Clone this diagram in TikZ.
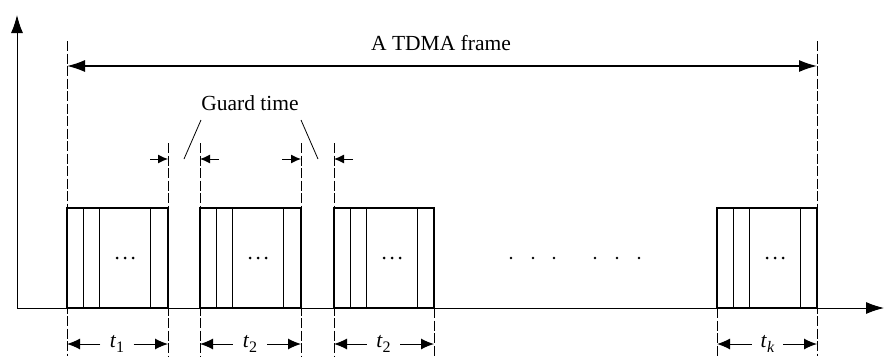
\documentclass[tikz,border=0pt]{standalone}
\usepackage{fontspec}
\setmainfont{Liberation Serif}
\usetikzlibrary{arrows.meta}
\begin{document}
\begin{tikzpicture}[x=1pt,y=-1pt,
  lbl/.style={font=\fontsize{21.5}{24}\selectfont, inner sep=0pt},
  slot/.style={draw, line width=1.8pt, minimum width=100pt, minimum height=100pt, inner sep=0pt},
  divider/.style={line width=0.8pt},
  guide/.style={line width=0.9pt, dash pattern=on 10pt off 2.5pt},
  axis/.style={line width=1pt, -{Latex[length=18pt,width=12pt]}},
  framearrow/.style={line width=1.3pt, {Latex[length=18pt,width=12pt]}-{Latex[length=18pt,width=12pt]}},
  gardarrow/.style={line width=1pt, -{Latex[length=10pt,width=9pt]}},
  dimarrow/.style={line width=1pt, -{Latex[length=13pt,width=11pt]}},
  pointer/.style={line width=0.8pt}
]
\useasboundingbox (0,0) rectangle (885,356);

% dashed guides
\coordinate (g0) at (67,343);
\coordinate (g1) at (168,343);
\coordinate (g2) at (200,343);
\coordinate (g3) at (301,343);
\coordinate (g4) at (334,343);
\coordinate (g5) at (434,343);
\coordinate (g6) at (717,343);
\coordinate (g7) at (817,343);
\draw[guide] (67,41) -- (67,356);
\draw[guide] (817,41) -- (817,356);
\draw[guide] (168,143) -- (168,356);
\draw[guide] (200,143) -- (200,356);
\draw[guide] (301,143) -- (301,356);
\draw[guide] (334,143) -- (334,356);
\draw[guide] (434,308) -- (434,356);
\draw[guide] (717,308) -- (717,356);

% axes
\coordinate (o) at (17,308);
\coordinate (ytop) at (17,15);
\coordinate (xend) at (884,308);
\draw[axis] (o) -- (ytop);
\draw[axis] (o) -- (xend);

% slots
\node[slot, minimum width=101pt] (b1) at (117.5,258) {};
\node[slot, minimum width=101pt] (b2) at (250.5,258) {};
\node[slot] (b3) at (384,258) {};
\node[slot] (bk) at (767,258) {};
\foreach \b in {b1,b2,b3,bk}{
  \foreach \o in {17,33,84}{
    \draw[divider] ([xshift=\o pt]\b.north west) -- ([xshift=\o pt]\b.south west);
  }
  \foreach \d in {51,59,67}{
    \fill ([xshift=\d pt]\b.west) circle (1.5pt);
  }
}

% middle dots
\foreach \x in {511,533,554,595,617,639}{
  \fill (\x,258) circle (1.4pt);
}

% TDMA frame
\coordinate (fa) at (67,66);
\coordinate (fb) at (817,66);
\draw[framearrow] (fa) -- (fb);
\node[lbl] (frame) at (441,43) {A TDMA frame};

% guard time
\node[lbl] (guard) at (250,103) {Guard time};
\coordinate (p1a) at (201,120);
\coordinate (p1b) at (184,159);
\coordinate (p2a) at (301,120);
\coordinate (p2b) at (318,159);
\draw[pointer] (p1a) -- (p1b);
\draw[pointer] (p2a) -- (p2b);
\coordinate (ga1) at (150,159); \coordinate (gb1) at (168,159);
\coordinate (ga2) at (219,159); \coordinate (gb2) at (200,159);
\coordinate (ga3) at (282,159); \coordinate (gb3) at (301,159);
\coordinate (ga4) at (353,159); \coordinate (gb4) at (334,159);
\draw[gardarrow] (ga1) -- (gb1);
\draw[gardarrow] (ga2) -- (gb2);
\draw[gardarrow] (ga3) -- (gb3);
\draw[gardarrow] (ga4) -- (gb4);

% durations
\newcommand{\tsub}[1]{\textit{t}\raisebox{-5pt}{\fontsize{16}{16}\selectfont #1}}
\node[lbl, minimum width=33pt] (t1) at (117,344) {\tsub{1}};
\node[lbl, minimum width=34pt] (t2) at (250,344) {\tsub{2}};
\node[lbl, minimum width=33pt] (t3) at (383.5,344) {\tsub{2}};
\node[lbl, minimum width=31pt] (tk) at (767.5,344) {\tsub{\textit{k}}};
\draw[dimarrow] (t1.west) -- (t1.west -| g0);
\draw[dimarrow] (t1.east) -- (t1.east -| g1);
\draw[dimarrow] (t2.west) -- (t2.west -| g2);
\draw[dimarrow] (t2.east) -- (t2.east -| g3);
\draw[dimarrow] (t3.west) -- (t3.west -| g4);
\draw[dimarrow] (t3.east) -- (t3.east -| g5);
\draw[dimarrow] (tk.west) -- (tk.west -| g6);
\draw[dimarrow] (tk.east) -- (tk.east -| g7);
\end{tikzpicture}
\end{document}
